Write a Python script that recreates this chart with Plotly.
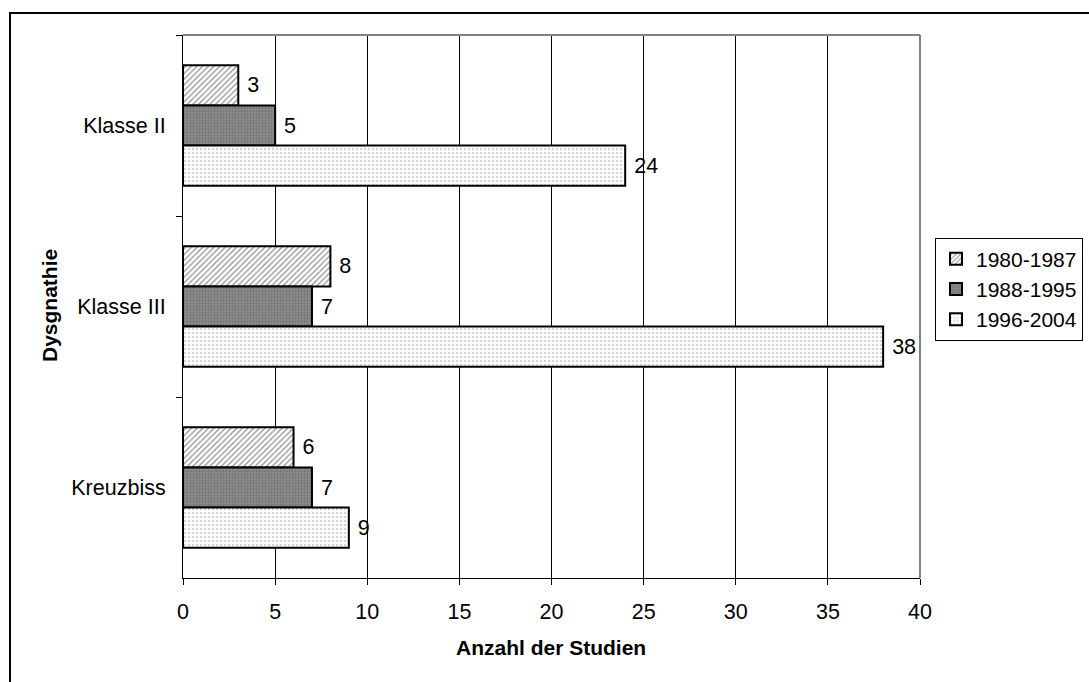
import plotly.graph_objects as go

categories = ["Klasse II", "Klasse III", "Kreuzbiss"]
periods = ["1980-1987", "1988-1995", "1996-2004"]
counts = {
    "1980-1987": [3, 8, 6],
    "1988-1995": [5, 7, 7],
    "1996-2004": [24, 38, 9],
}
x_ticks = [0, 5, 10, 15, 20, 25, 30, 35, 40]

patterns = {
    "1980-1987": dict(shape="/", fgcolor="#333333", bgcolor="#ffffff", size=4, solidity=0.35),
    "1988-1995": dict(shape=".", fgcolor="#5a5a5a", bgcolor="#8e8e8e", size=3, solidity=0.45),
    "1996-2004": dict(shape=".", fgcolor="#a8a8a8", bgcolor="#ffffff", size=4, solidity=0.3),
}

FONT = "Liberation Sans, Arial, sans-serif"
FS = 21.5

fig = go.Figure()
for p in periods:
    fig.add_trace(go.Bar(
        y=categories,
        x=counts[p],
        name=p,
        orientation="h",
        text=[str(v) for v in counts[p]],
        texttemplate="\u00a0%{text}",
        textposition="outside",
        textfont=dict(size=FS, color="black", family=FONT),
        cliponaxis=False,
        marker=dict(
            color=patterns[p]["bgcolor"],
            pattern=patterns[p],
            line=dict(color="black", width=2),
        ),
    ))

W, H = 1089, 682
L, R, T, B = 183, 169, 35, 104
pw, ph = W - L - R, H - T - B

def px(x):
    return (x - L) / pw

def py(y):
    return (H - B - y) / ph

fig.update_layout(
    width=W, height=H,
    margin=dict(l=L, r=R, t=T, b=B, autoexpand=False),
    paper_bgcolor="white",
    plot_bgcolor="white",
    barmode="group",
    bargap=0.335,
    bargroupgap=0,
    font=dict(family=FONT, size=FS, color="black"),
    showlegend=True,
    legend=dict(
        x=px(1083), y=py(289), xanchor="right", yanchor="middle",
        bordercolor="black", borderwidth=1, bgcolor="white",
        font=dict(size=21, family=FONT),
        itemwidth=30,
        tracegroupgap=0,
    ),
    xaxis=dict(
        range=[0, 40],
        tickvals=x_ticks,
        ticktext=[str(v) for v in x_ticks],
        showgrid=True, gridcolor="black", gridwidth=1,
        showline=True, linecolor="black", linewidth=1,
        ticks="outside", ticklen=6, tickcolor="black",
        zeroline=False,
        tickfont=dict(size=FS),
        ticklabelstandoff=8,
    ),
    yaxis=dict(
        autorange="reversed",
        showline=True, linecolor="black", linewidth=1,
        ticks="outside", ticklen=6, tickcolor="black",
        tickson="boundaries",
        showgrid=False,
        tickfont=dict(size=FS),
        ticklabelstandoff=12,
    ),
    shapes=[
        # outer chart frame
        dict(type="rect", xref="paper", yref="paper",
             x0=px(10), x1=px(1100), y0=py(700), y1=py(13),
             line=dict(color="black", width=2), layer="below"),
        # gray frame of the plotting area
        dict(type="line", xref="paper", yref="paper",
             x0=0, x1=1, y0=1, y1=1,
             line=dict(color="#808080", width=2)),
        dict(type="line", xref="paper", yref="paper",
             x0=1, x1=1, y0=0, y1=1,
             line=dict(color="#808080", width=2)),
    ],
    annotations=[
        dict(text="<b>Anzahl der Studien</b>", xref="paper", yref="paper",
             x=px(551), y=py(647), xanchor="center", yanchor="middle",
             showarrow=False, font=dict(size=21, family=FONT)),
        dict(text="<b>Dysgnathie</b>", xref="paper", yref="paper",
             x=px(50), y=py(306), xanchor="center", yanchor="middle",
             showarrow=False, textangle=-90,
             font=dict(size=21, family=FONT)),
    ],
)

fig.write_html("out.html")
